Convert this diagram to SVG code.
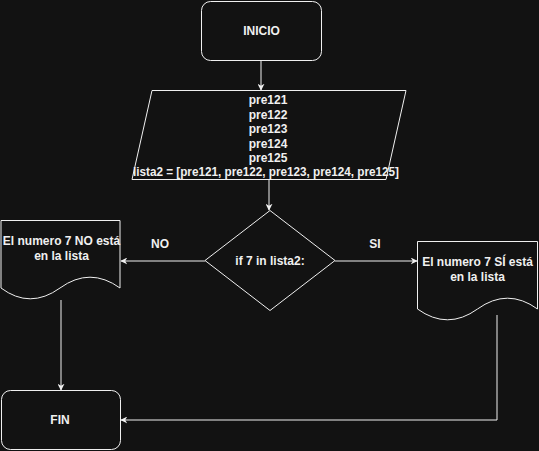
<svg xmlns="http://www.w3.org/2000/svg" width="539" height="451" viewBox="0 0 539 451">
<defs>
<marker id="arr" viewBox="0 0 10 10" refX="9" refY="5" markerWidth="7" markerHeight="7" markerUnits="userSpaceOnUse" orient="auto">
<path d="M0,0 L10,5 L0,10 L3,5 Z" fill="#f0f0f0"/>
</marker>
</defs>
<style>
.s{fill:#121212;stroke:#f0f0f0;stroke-width:1}
.t{font-family:"Liberation Sans",Arial,sans-serif;font-size:12px;font-weight:bold;fill:#f0f0f0;text-anchor:middle}
.c{fill:none;stroke:#f0f0f0;stroke-width:1;marker-end:url(#arr)}
</style>
<rect width="539" height="451" fill="#121212"/>
<g id="connectors">
<path class="c" d="M261,61 V90"/>
<path class="c" d="M269,180 V210"/>
<path class="c" d="M205,261 H121"/>
<path class="c" d="M335,261 H417"/>
<path class="c" d="M61,300 V390"/>
<path class="c" d="M497,315 V420 H121"/>
<text class="t" x="160" y="248">NO</text>
<text class="t" x="375" y="248">SI</text>
</g>
<g id="inicio">
<rect class="s" x="201.5" y="1.5" width="120" height="59" rx="9"/>
<text class="t" x="261.5" y="35">INICIO</text>
</g>
<g id="datos">
<polygon class="s" points="152,90.5 406,90.5 386,179.5 132,179.5"/>
<text class="t" x="268" y="104">pre121</text>
<text class="t" x="268" y="118.5">pre122</text>
<text class="t" x="268" y="133">pre123</text>
<text class="t" x="268" y="147.5">pre124</text>
<text class="t" x="268" y="162">pre125</text>
<text class="t" x="266" y="176" textLength="266" lengthAdjust="spacingAndGlyphs">lista2 = [pre121, pre122, pre123, pre124, pre125]</text>
</g>
<g id="decision">
<polygon class="s" points="270,210.5 335,260.5 270,310.5 205,260.5"/>
<text class="t" x="270" y="265">if 7 in lista2:</text>
</g>
<g id="no">
<path class="s" d="M1,220.5 H120 V288 Q90,266.4 60,288 Q30,309.6 1,288 Z"/>
<text class="t" x="61.5" y="245">El numero 7 NO está</text>
<text class="t" x="61.5" y="260">en la lista</text>
</g>
<g id="si">
<path class="s" d="M417.5,241.5 H537.5 V309 Q507.5,287.4 477.5,309 Q447.5,330.6 417.5,309 Z"/>
<text class="t" x="477.5" y="266">El numero 7 SÍ está</text>
<text class="t" x="477.5" y="281">en la lista</text>
</g>
<g id="fin">
<rect class="s" x="1.5" y="390.5" width="119" height="59" rx="9"/>
<text class="t" x="60" y="424">FIN</text>
</g>
</svg>
